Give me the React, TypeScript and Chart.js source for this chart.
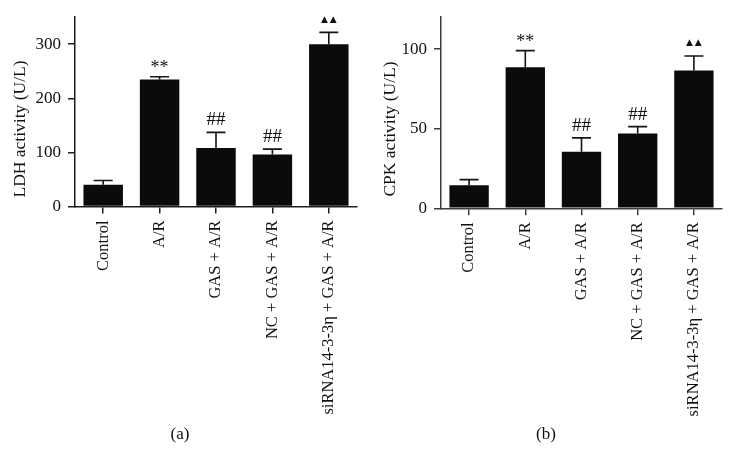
import React, { useEffect, useRef } from "react";
import { Chart, registerables } from "chart.js";

Chart.register(...registerables);

const categories = ["Control", "A/R", "GAS + A/R", "NC + GAS + A/R", "siRNA14-3-3η + GAS + A/R"];

const ldhValues = [40, 235, 108, 96, 300];
const ldhErrors = [8, 5, 29, 10, 22];
const ldhMarks = ["", "**", "##", "##", "▲▲"];
const ldhTicks = [0, 100, 200, 300];
const ldhMax = 350;
const ldhTitle = "LDH activity (U/L)";
const ldhLabel = "(a)";

const cpkValues = [14.5, 88.5, 35.5, 47, 86.5];
const cpkErrors = [3.5, 10.5, 8.7, 4.3, 9.1];
const cpkMarks = ["", "**", "##", "##", "▲▲"];
const cpkTicks = [0, 50, 100];
const cpkMax = 120;
const cpkTitle = "CPK activity (U/L)";
const cpkLabel = "(b)";

const SERIF = '"Liberation Serif", "Times New Roman", serif';
const H = 467;

const overlay = {
  id: "overlay",
  afterDatasetsDraw(chart: any, _args: any, opts: any) {
    const { ctx } = chart;
    const y = chart.scales.y;
    const meta = chart.getDatasetMeta(0);
    ctx.save();
    ctx.strokeStyle = "#151515";
    ctx.lineWidth = 1.6;
    opts.values.forEach((v: number, i: number) => {
      const bar = meta.data[i];
      const cx = bar.x;
      const yTop = y.getPixelForValue(v);
      const yErr = y.getPixelForValue(v + opts.errors[i]);
      ctx.beginPath();
      ctx.moveTo(cx, yTop);
      ctx.lineTo(cx, yErr);
      ctx.moveTo(cx - 9.5, yErr);
      ctx.lineTo(cx + 9.5, yErr);
      ctx.stroke();
      const m = opts.marks[i];
      if (m) {
        ctx.fillStyle = "#111";
        ctx.textAlign = "center";
        if (m.includes("▲")) {
          ctx.font = '9px "DejaVu Sans"';
          ctx.textBaseline = "middle";
          ctx.fillText("▲\u2009▲", cx, yErr - 13);
        } else if (m.includes("*")) {
          ctx.font = `18px ${SERIF}`;
          ctx.textBaseline = "alphabetic";
          ctx.fillText(m, cx, yErr - 3.5);
        } else {
          ctx.font = `19px ${SERIF}`;
          ctx.textBaseline = "alphabetic";
          ctx.fillText(m, cx, yErr - 7);
        }
      }
    });
    ctx.restore();
  },
  afterDraw(chart: any, _args: any, opts: any) {
    const { ctx } = chart;
    ctx.save();
    ctx.fillStyle = "#111";
    ctx.font = `17px ${SERIF}`;
    ctx.textAlign = "center";
    ctx.textBaseline = "middle";
    ctx.fillText(opts.label, 180, 435);
    ctx.font = `17.5px ${SERIF}`;
    ctx.translate(opts.titleX, 129);
    ctx.rotate(-Math.PI / 2);
    ctx.fillText(opts.title, 0, 0);
    ctx.restore();
  },
};

type PanelProps = {
  width: number;
  values: number[];
  errors: number[];
  marks: string[];
  ticks: number[];
  max: number;
  title: string;
  label: string;
  padTop: number;
  padRight: number;
  bottom: number;
  axisColor: string;
  titleX: number;
};

function Panel(p: PanelProps) {
  const ref = useRef<HTMLCanvasElement | null>(null);
  useEffect(() => {
    if (!ref.current) return;
    const chart = new Chart(ref.current, {
      type: "bar",
      data: {
        labels: categories,
        datasets: [
          {
            data: p.values,
            backgroundColor: "#0b0b0b",
            borderWidth: 0,
            barPercentage: 0.7,
            categoryPercentage: 1,
          },
        ],
      },
      plugins: [overlay as any],
      options: {
        responsive: false,
        animation: false,
        devicePixelRatio: 1,
        layout: { padding: { top: p.padTop, right: p.padRight, left: 0, bottom: 0 } },
        plugins: {
          legend: { display: false },
          tooltip: { enabled: false },
          overlay: {
            values: p.values,
            errors: p.errors,
            marks: p.marks,
            title: p.title,
            label: p.label,
            titleX: p.titleX,
          },
        } as any,
        scales: {
          x: {
            type: "category",
            offset: true,
            grid: {
              display: true,
              drawOnChartArea: false,
              drawTicks: true,
              tickLength: 7,
              offset: false,
              color: p.axisColor,
              lineWidth: 1.5,
            },
            border: { display: true, color: p.axisColor, width: 1.5 },
            ticks: {
              autoSkip: false,
              minRotation: 90,
              maxRotation: 90,
              padding: 7,
              color: "#111",
              font: { family: SERIF, size: 16.5 },
            },
            afterFit: (s: any) => {
              s.height = H - p.bottom;
            },
          } as any,
          y: {
            min: 0,
            max: p.max,
            afterBuildTicks: (s: any) => {
              s.ticks = p.ticks.map((v) => ({ value: v }));
            },
            grid: {
              display: true,
              drawOnChartArea: false,
              drawTicks: true,
              tickLength: 7,
              color: p.axisColor,
              lineWidth: 1.5,
            },
            border: { display: true, color: p.axisColor, width: 1.5 },
            ticks: {
              padding: 7,
              color: "#111",
              font: { family: SERIF, size: 17 },
            },
            afterFit: (s: any) => {
              s.width = 75;
            },
          } as any,
        },
      },
    });
    return () => chart.destroy();
  }, []);
  return <canvas ref={ref} width={p.width} height={H} style={{ display: "block", width: p.width, height: H }} />;
}

export default function App() {
  return (
    <div
      style={{
        position: "absolute",
        left: 0,
        top: 0,
        width: 733,
        height: H,
        display: "flex",
        background: "#fff",
      }}
    >
      <Panel
        width={366}
        values={ldhValues}
        errors={ldhErrors}
        marks={ldhMarks}
        ticks={ldhTicks}
        max={ldhMax}
        title={ldhTitle}
        label={ldhLabel}
        padTop={11.4}
        padRight={9}
        bottom={206.5}
        axisColor="#1e1e1e"
        titleX={20}
      />
      <Panel
        width={367}
        values={cpkValues}
        errors={cpkErrors}
        marks={cpkMarks}
        ticks={cpkTicks}
        max={cpkMax}
        title={cpkTitle}
        label={cpkLabel}
        padTop={13.5}
        padRight={11}
        bottom={208.3}
        axisColor="#3c3c3c"
        titleX={24}
      />
    </div>
  );
}
